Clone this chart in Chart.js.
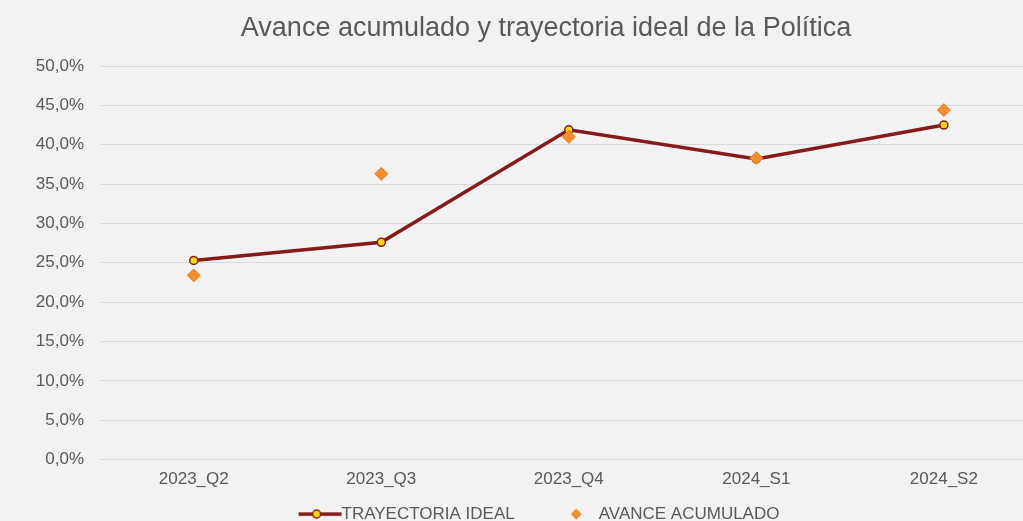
<!DOCTYPE html>
<html>
<head>
<meta charset="utf-8">
<script src="https://cdn.jsdelivr.net/npm/chart.js@4"></script>
<style>
  html, body { margin: 0; padding: 0; background: #f2f2f2; overflow: hidden; }
  #wrap { width: 1023px; height: 521px; overflow: hidden; position: relative; }
  #box { position: absolute; left: 0; top: 0; width: 1092px; height: 582px; }
</style>
</head>
<body>
<div id="wrap"><div id="box"><canvas id="chart"></canvas></div></div>
<script>
const periods = ['2023_Q2', '2023_Q3', '2023_Q4', '2024_S1', '2024_S2'];
const trayectoriaIdeal = [25.3, 27.6, 41.9, 38.2, 42.5];
const avanceAcumulado = [23.4, 36.3, 41.0, 38.3, 44.4];
const yTicks = [0, 5, 10, 15, 20, 25, 30, 35, 40, 45, 50];

const textColor = '#595959';
const lineColor = '#861a1a';
const yellow = '#ffd700';
const orange = '#f28e2b';
const fontFamily = "'Liberation Sans', Arial, sans-serif";
const legendFontSize = 17;
const legendGap = 55;      // space between the two legend entries
const legendTextY = 54.5;  // distance from plot bottom to legend text

// legend icons: line with marker (excel style) and a small diamond
function makeLineIcon() {
  const c = document.createElement('canvas');
  c.width = 50;
  c.height = 14;
  const g = c.getContext('2d');
  g.strokeStyle = lineColor;
  g.lineWidth = 3.5;
  g.beginPath();
  g.moveTo(0.75, 7);
  g.lineTo(43.75, 7);
  g.stroke();
  g.beginPath();
  g.arc(18.75, 7, 4, 0, Math.PI * 2);
  g.fillStyle = yellow;
  g.fill();
  g.lineWidth = 1.5;
  g.stroke();
  return c;
}

function makeDiamondIcon() {
  const c = document.createElement('canvas');
  c.width = 22;
  c.height = 14;
  const g = c.getContext('2d');
  const x = 7.25, y = 7, r = 5.5;
  g.beginPath();
  g.moveTo(x - r, y);
  g.lineTo(x, y - r);
  g.lineTo(x + r, y);
  g.lineTo(x, y + r);
  g.closePath();
  g.fillStyle = orange;
  g.fill();
  return c;
}

const legendIcons = [makeLineIcon(), makeDiamondIcon()];

// pull the legend up closer to the axis labels
const legendPosition = {
  id: 'legendPosition',
  afterLayout(chart) {
    chart.legend.top = chart.chartArea.bottom + legendTextY - legendGap - legendFontSize / 2;
  },
};

const ctx = document.getElementById('chart').getContext('2d');
new Chart(ctx, {
  type: 'line',
  data: {
    datasets: [
      {
        label: 'TRAYECTORIA IDEAL',
        data: periods.map((p, i) => ({ x: i, y: trayectoriaIdeal[i] })),
        order: 1, // diamonds drawn over the line
        borderColor: lineColor,
        borderWidth: 3.5,
        pointRadius: 4,
        pointBackgroundColor: yellow,
        pointBorderColor: lineColor,
        pointBorderWidth: 1.5,
        tension: 0,
      },
      {
        label: 'AVANCE ACUMULADO',
        data: periods.map((p, i) => ({ x: i, y: avanceAcumulado[i] })),
        order: 0,
        showLine: false,
        pointStyle: 'rectRot',
        pointRadius: 6.5,
        pointBackgroundColor: orange,
        pointBorderColor: '#ec8222',
        pointBorderWidth: 1,
      },
    ],
  },
  options: {
    responsive: true,
    maintainAspectRatio: false,
    animation: false,
    layout: { padding: 0 },
    scales: {
      x: {
        type: 'linear',
        min: -0.5,
        max: 4.75,
        grid: { display: false, drawTicks: false },
        border: { display: false },
        afterBuildTicks: (s) => { s.ticks = periods.map((p, i) => ({ value: i })); },
        ticks: {
          padding: 10,
          color: textColor,
          font: { family: fontFamily, size: 17 },
          callback: (v) => periods[v],
        },
      },
      y: {
        min: 0,
        max: 50,
        afterBuildTicks: (s) => { s.ticks = yTicks.map((v) => ({ value: v })); },
        afterFit: (s) => { s.width = 100; },
        grid: { color: '#d9d9d9', lineWidth: 1, drawTicks: false },
        border: { display: false },
        ticks: {
          padding: 16,
          color: textColor,
          font: { family: fontFamily, size: 17 },
          callback: (v) => v.toFixed(1).replace('.', ',') + '%',
        },
      },
    },
    plugins: {
      title: {
        display: true,
        text: 'Avance acumulado y trayectoria ideal de la Política',
        color: textColor,
        font: { family: fontFamily, size: 27, weight: 'normal' },
        padding: { top: 12, bottom: 21.6 },
      },
      legend: {
        position: 'bottom',
        labels: {
          usePointStyle: true,
          pointStyleWidth: 20.5,
          padding: legendGap,
          color: textColor,
          font: { family: fontFamily, size: legendFontSize },
          sort: (a, b) => a.datasetIndex - b.datasetIndex,
          generateLabels: (chart) => {
            const items = Chart.defaults.plugins.legend.labels.generateLabels(chart);
            items.forEach((item) => { item.pointStyle = legendIcons[item.datasetIndex]; });
            return items;
          },
        },
      },
      tooltip: { enabled: false },
    },
  },
  plugins: [legendPosition],
});
</script>
</body>
</html>
